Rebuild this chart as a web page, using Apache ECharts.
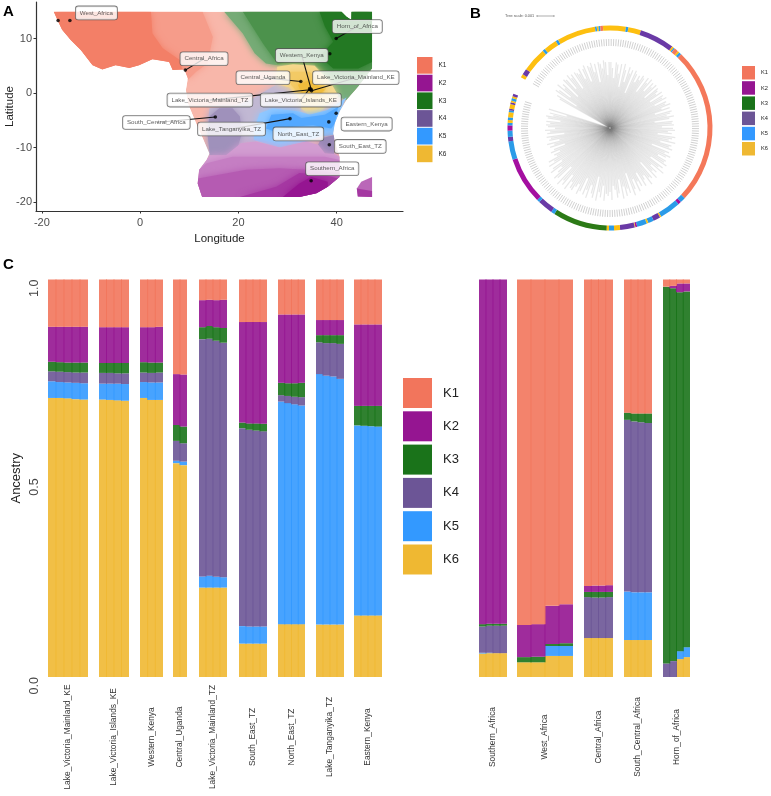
<!DOCTYPE html>
<html>
<head>
<meta charset="utf-8">
<style>html,body{margin:0;padding:0;background:#fff}#c{width:771px;height:796px;filter:blur(.4px)}</style>
<script src="https://cdn.jsdelivr.net/npm/echarts@6/dist/echarts.min.js"></script>
</head>
<body>
<div id="c"></div>
<script>
// ---------- shared ----------
const clusters = ['K1','K2','K3','K4','K5','K6'];

// ---------- panel C: ancestry per sample, one inner list per group ----------
const groups = ['Lake_Victoria_Mainland_KE','Lake_Victoria_Islands_KE','Western_Kenya','Central_Uganda','Lake_Victoria_Mainland_TZ','South_East_TZ','North_East_TZ','Lake_Tanganyika_TZ','Eastern_Kenya','Southern_Africa','West_Africa','Central_Africa','South_Central_Africa','Horn_of_Africa'];
const K1 = [[.119,.119,.119,.119,.119],[.120,.120,.120,.120],[.120,.120,.119],[.238,.239],[.052,.051,.052,.051],[.107,.107,.107,.107],[.088,.088,.088,.088],[.102,.102,.102,.102],[.113,.113,.113,.113],[0,0,0,0],[.869,.867,.821,.817],[.771,.770,.770,.769],[.335,.337,.337,.337],[.018,.016,.010,.010]];
const K2 = [[.088,.089,.090,.090,.090],[.090,.090,.090,.090],[.088,.089,.090],[.128,.131],[.068,.066,.068,.071],[.253,.255,.255,.256],[.172,.173,.173,.172],[.038,.038,.038,.038],[.205,.205,.205,.205],[.867,.866,.866,.866],[.081,.082,.096,.098],[.015,.016,.016,.017],[0,0,0,0],[0,.006,.022,.020]];
const K3 = [[.024,.024,.024,.025,.025],[.025,.025,.026,.026],[.026,.026,.025],[.040,.042],[.030,.032,.034,.037],[.014,.016,.018,.019],[.031,.032,.034,.036],[.018,.020,.020,.022],[.049,.050,.051,.052],[.006,.005,.005,.005],[.013,.014,.005,.007],[.013,.014,.014,.013],[.018,.020,.022,.024],[.948,.938,.903,.895]];
const K4 = [[.025,.026,.026,.026,.027],[.027,.027,.026,.027],[.024,.024,.025],[.050,.046],[.597,.596,.594,.590],[.498,.495,.493,.491],[.016,.018,.019,.021],[.080,.082,.084,.088],[0,0,0,0],[.066,.068,.069,.069],[0,0,0,0],[.103,.102,.102,.103],[.432,.430,.428,.426],[.034,.040,0,0]];
const K5 = [[.042,.040,.040,.041,.041],[.040,.041,.042,.042],[.040,.044,.044],[.006,.009],[.028,.030,.027,.026],[.044,.043,.043,.043],[.560,.556,.553,.550],[.630,.626,.624,.618],[.478,.477,.476,.475],[.002,.001,0,0],[0,0,.025,.025],[0,0,0,0],[.122,.120,.120,.120],[0,0,.020,.025]];
const K6 = [[.702,.702,.701,.699,.698],[.698,.697,.696,.695],[.702,.697,.697],[.538,.533],[.225,.225,.225,.225],[.084,.084,.084,.084],[.133,.133,.133,.133],[.132,.132,.132,.132],[.155,.155,.155,.155],[.059,.060,.060,.060],[.037,.037,.053,.053],[.098,.098,.098,.098],[.093,.093,.093,.093],[0,0,.045,.050]];
const ancestry = [K1,K2,K3,K4,K5,K6];

// ---------- panel B: ring segments (cluster index, arc length) and branch lengths ----------
const ringCluster = [5,3,5,4,5,4,5,4,5,4,0,5,4,5,3,5,4,0,5,4,0,4,1,4,5,3,4,5,4,1,5,3,5,4,5,2,4,3,4,1,4,3,4,1,4,5,4,5,4,3,5,3,5,4,5,3];
const ringArc = [2,3.4,14,1.5,7.5,1.5,22,1,1,1,1.5,13,1.4,7.2,19.8,1,.8,2.3,1,1.5,89.2,3.1,1.7,12,.8,4,3.2,1,5.6,1,.4,8.3,3.4,2.9,1.3,31,2.1,8.7,1.6,26.6,10.6,2.5,3.5,3,1.5,1.5,1.5,3,1,1,2.5,1,1,1.5,1,1.5];
const ringGap = 10.1;
const branchLength = [
58,62,40,66,63,50,68,60,64,45,67,65,52,68,63,66,48,66,64,
62,67,55,65,68,50,66,64,68,58,66,47,67,65,60,68,66,53,66,
66,60,50,66,64,55,65,42,66,60,48,64,58,62,38,63,60,52,60,
56,62,60,45,63,58,64,50,62,58,63,46,62,60,57,63,48,62,60,
64,50,62,60,65,55,63,47,64,62,58,65,60,45,63,62,64,52,63,
65,58,62,48,66,63,60,67,52,64,62,66,45,64,60,67,63,55,65,
64,68,50,66,62,70,55,64,60,68,46,65,63,70,58,62,68,52,66,
60,70,56,66,72,48,68,63,70,60,72,52,66,70,62,58,72,64,68,
66,73,58,70,65,74,50,72,68,60,74,66,72,55,70,74,64,68,73,
72,66,76,60,74,70,77,55,72,75,68,62,74,70,58,72,65,70,60,
62,55,64,60,48,63,58,65,52,62,60,64,46,63,60,65,55,62,64,
60,64,50,63,65,58,62,45,64];
const tipSlots = 225;

// ---------- panel A: sampling sites (lon, lat) and their label anchors ----------
const siteNames = ['West_Africa','Horn_of_Africa','Central_Africa','Western_Kenya','Central_Uganda','Lake_Victoria_Mainland_KE','Lake_Victoria_Mainland_TZ','Lake_Victoria_Islands_KE','South_Central_Africa','Lake_Tanganyika_TZ','North_East_TZ','Eastern_Kenya','South_East_TZ','Southern_Africa'];
const siteLon = [-14.3,39.9,9.2,34.8,32.7,34.9,34.6,34.5,15.3,30.5,38.4,39.9,38.5,34.8];
const siteLat = [13.3,10,4.2,.7,2.1,.4,.6,.8,-4.4,-4.7,-5.3,-3.7,-9.5,-16.1];
const labelLon = [-8.9,44.2,13,32.9,25,43.9,14.2,32.7,3.3,18.6,32.2,46.1,44.8,39.1];
const labelLat = [14.7,12.2,6.3,6.9,2.8,2.8,-1.3,-1.3,-5.4,-6.6,-7.5,-5.7,-9.8,-13.9];
const extraSites = [[-16.7,13.3],[38.6,7.2]];
const leaderSites = ['Horn_of_Africa','Central_Africa','Western_Kenya','Central_Uganda','Lake_Victoria_Mainland_KE','Lake_Victoria_Mainland_TZ','Lake_Victoria_Islands_KE','South_Central_Africa','Lake_Tanganyika_TZ'];

// ---------- panel A: interpolated ancestry regions, as lon/lat outlines ----------
const coastWest = [[9,4.3],[6.6,4.2],[5.9,5.7],[2.5,6.2],[-.2,5.1],[-2.2,4.6],[-5,5.1],[-7.7,4.3],[-9.7,5.1],[-12.1,7.9],[-14.1,9.7],[-15.9,11.6],[-16.7,13.1],[-17.6,14.9]];
const coastSouth = [[40.6,-15.4],[38.2,-17.2],[35.9,-18.4],[32.4,-19.1],[12.6,-19.1],[11.7,-16.6],[12,-14.1]];
const hornEdge = [[47.2,14.9],[43,14.9],[43,13.4],[42,14],[41,14.9]];
const land = [[-17.6,14.9],[-16.7,13.1],[-15.9,11.6],[-14.1,9.7],[-12.1,7.9],[-9.7,5.1],[-7.7,4.3],[-5,5.1],[-2.2,4.6],[-.2,5.1],[2.5,6.2],[5.9,5.7],[6.6,4.2],[9,4.3],[9.7,2.7],[9.3,.55],[9.7,-1.9],[11.4,-5.6],[12.9,-8.6],[14.1,-11.1],[13.5,-12.3],[12,-14.1],[11.7,-16.6],[12.6,-19.1],[32.4,-19.1],[35.9,-18.4],[38.2,-17.2],[40.6,-15.4],[40.6,-11.7],[39.6,-8.6],[39.3,-7.4],[39.6,-5.6],[40.6,-3.4],[42,-1.3],[44.4,1.2],[47.2,4.5],[47.2,14.9],[43,14.9],[43,13.4],[42,14],[41,14.9]];
const westMid = [[12.7,14.9],[14.8,10.3],[13.7,5.4],[11.4,3.9],[9.7,2.4]].concat(coastWest);
const westCore = [[2.2,14.9],[2.5,10.9],[4.6,8.2],[8,6.1],[8.5,4.5]].concat(coastWest);
const hornPale = [[17.1,14.9],[20.9,10.9],[23.3,7.3],[25.6,5.4],[28,5.1],[35.5,5.1],[39.3,1.2],[40.3,-.7],[42,-1.3],[44.4,1.2],[47.2,4.5]].concat(hornEdge);
const hornMid = [[20.9,14.9],[25,9.1],[28,5.3],[35.5,5.3],[38.6,2.4],[43.3,2.4],[47.2,4.5]].concat(hornEdge);
const hornCore = [[36.5,14.9],[37.6,12.2],[39.3,9.4],[36.5,6.7],[39.3,4.5],[44.4,4.5],[47.2,5.7]].concat(hornEdge);
const centralPale = [[14.1,-2.8],[18.8,-2.6],[22.9,-1],[24.6,-.1],[27.7,1.5],[30.7,1],[32.8,-1.3],[32.8,-3.4],[27,-2.8],[24.3,-3.7],[23.3,-6.8],[23.6,-8.9],[20.5,-9.2],[17.5,-11.4],[14.2,-11.4],[13.7,-7.4]];
const centralCore = [[13.7,-7.4],[14.1,-4.3],[16.1,-2.8],[18.8,-2.8],[20.3,-4.3],[20.7,-7.4],[19.9,-9.8],[17.5,-11.4],[14.2,-11.4]];
const lakePale = [[27.9,4.8],[31.1,5.3],[35.5,5],[38.6,2.1],[40.3,-.4],[38.2,-2.2],[36.4,-3.6],[34.1,-3.9],[32.8,-2.8],[32.8,-1.3],[30.4,1],[27.6,1.8]];
const lakeMid = [[29.7,3.9],[34.5,3.9],[37.9,.9],[36.5,-1],[32.8,-.7],[30.7,1.5]];
const lakeCore = [[32.1,1.5],[34.5,2.4],[37.6,.6],[35.9,-.7],[33.1,-.4]];
const coastPale = [[23.6,-5.6],[24.3,-3.7],[27,-2.8],[32.4,-3.4],[34.5,-4],[38.2,-3.1],[40.3,-1.9],[42,-.8],[40.6,-3.4],[39.6,-5.6],[39.3,-7.7],[36.5,-8],[33.8,-8.9],[28.4,-10],[23.1,-8.6]];
const coastCore = [[25.6,-6.5],[26.7,-4],[31.1,-3.7],[32.8,-4.6],[37.6,-4],[40.3,-2.5],[39.6,-5.6],[38.9,-6.5],[35.2,-5.9],[31.1,-6.2],[28.4,-7.4]];
const southEast = [[39.5,-7.7],[39.5,-11.2],[37.6,-11.1],[36.2,-9.5],[36.9,-8.3]];
const south1 = [[14.2,-11.4],[17.5,-11.4],[20.5,-9.2],[23.6,-8.9],[28.4,-10],[33.8,-8.9],[36.2,-9.5],[37.6,-11.1],[39.5,-11.2],[40.6,-11.7]].concat(coastSouth,[[13.5,-12.3]]);
const south2 = [[13.5,-12.9],[18.8,-11.7],[29,-11.7],[37.6,-11.7],[40.6,-12.3]].concat(coastSouth);
const south3 = [[11.8,-15.7],[21.6,-14.1],[28.4,-13.8],[33.8,-14.1],[40.6,-14.7],[40.6,-15.4],[38.2,-17.2],[35.9,-18.4],[32.4,-19.1],[12.6,-19.1],[11.7,-16.6]];
const south4 = [[20.2,-19.1],[27.7,-17.2],[32.4,-14.7],[37.2,-15],[40.3,-15.7],[38.2,-17.2],[35.9,-18.4],[32.4,-19.1]];
const south5 = [[29,-19.1],[32.4,-16.6],[34.8,-15.4],[38.2,-16.3],[38.2,-17.2],[35.9,-18.4],[32.4,-19.1]];
const madagascar = [[47.2,-15.4],[45,-16.3],[44.1,-17.5],[44.3,-19],[47.2,-19.1]];
const madagascarCore = [[44.1,-17.5],[47.2,-18],[47.2,-19.1],[44.3,-19]];
const regionOutlines = [land,westMid,westCore,hornPale,hornMid,hornCore,centralPale,centralCore,lakePale,lakeMid,lakeCore,coastPale,coastCore,southEast,south1,south2,south3,south4,south5,madagascar,madagascarCore];
const regionCluster  = [0,0,0,2,2,2,3,3,5,5,5,4,4,3,1,1,1,1,1,1,1];
const regionShare    = [.52,.72,.93,.6,.78,.96,.42,.65,.55,.75,.95,.55,.85,.7,.42,.55,.7,.85,1,.65,.85];

// ---------- styles and layout ----------
const legendColors = ['#F2755C','#951591','#1A731A','#6C5596','#3399FF','#EFB832'];
const ringColors   = ['#F4785A','#A40FA0','#2C7A16','#6A3AA6','#2B9BE8','#FDBF10'];
const facetLeft  = [48,99,140,173,199,239,278,316,354,479,517,584,624,663];
const facetRight = [88,129,163,187,227,267,305,344,382,507,573,613,652,690];
const W = 771, H = 796, barTop = 279.5, barBottom = 677;
const FONT = '"Liberation Sans", Arial, sans-serif';

function blend(hex, share){
  const n = parseInt(hex.slice(1),16), c = [n>>16,(n>>8)&255,n&255];
  return 'rgb(' + c.map(v => Math.round(255 + (v-255)*share)).join(',') + ')';
}
const legendData = clusters.map((k,i) => ({name:k, icon:'rect', itemStyle:{color:legendColors[i], opacity:1, borderWidth:0}}));
function legend(left, top, w, h, gap, size, pad){
  return {orient:'vertical', left, top, itemWidth:w, itemHeight:h, itemGap:gap, selectedMode:false, padding:0,
    data:legendData, textStyle:{fontFamily:FONT, fontSize:size, color:'#222', padding:[0,0,0,pad]}};
}

const grids = [{left:36, right:W-403, top:2, bottom:H-211}];
const xAxes = [{gridIndex:0, type:'value', min:-21.2, max:53.5, name:'Longitude', nameLocation:'middle', nameGap:22,
  nameTextStyle:{fontFamily:FONT, fontSize:11.5, color:'#222'},
  axisLine:{onZero:false, lineStyle:{color:'#333', width:1.2}}, axisTick:{length:2.5, lineStyle:{color:'#333'}, customValues:[-20,0,20,40]},
  axisLabel:{fontFamily:FONT, fontSize:11, color:'#4d4d4d', margin:6, customValues:[-20,0,20,40], formatter:v=>String(v)}, splitLine:{show:false}}];
const yAxes = [{gridIndex:0, type:'value', min:-21.65, max:16.7, name:'Latitude', nameLocation:'middle', nameGap:26, nameRotate:90, nameMoveOverlap:false,
  nameTextStyle:{fontFamily:FONT, fontSize:11.5, color:'#222', align:'center', verticalAlign:'middle'},
  axisLine:{onZero:false, lineStyle:{color:'#333', width:1.2}}, axisTick:{length:2.5, lineStyle:{color:'#333'}, customValues:[-20,-10,0,10]},
  axisLabel:{fontFamily:FONT, fontSize:11, color:'#4d4d4d', margin:4, customValues:[-20,-10,0,10], formatter:v=>String(v)}, splitLine:{show:false}}];
const series = [];

// map regions: soft-edged layers kept inside the coastline
const softCount = 19;
series.push({type:'custom', name:'map', coordinateSystem:'cartesian2d', xAxisIndex:0, yAxisIndex:0, silent:true, z:1,
  data: regionOutlines.map((_,i)=>[i]),
  renderItem:(p,api)=>{
    const i = api.value(0);
    const fill = blend(legendColors[regionCluster[i]], regionShare[i]);
    const el = {type:'polygon', shape:{points:regionOutlines[i].map(q=>api.coord(q))},
      style:{fill, stroke:null, shadowBlur:(i>0 && i<softCount)?7:0, shadowColor:fill}};
    if(i<softCount){
      el.clipPath = {type:'polygon', shape:{points:land.map(q=>api.coord(q))}};
    }
    return el;
  }});
// leader lines
series.push({type:'custom', name:'leaders', coordinateSystem:'cartesian2d', xAxisIndex:0, yAxisIndex:0, silent:true, z:3,
  data: leaderSites.map(n=>[siteNames.indexOf(n)]),
  renderItem:(p,api)=>{
    const i = api.value(0), a = api.coord([siteLon[i],siteLat[i]]), b = api.coord([labelLon[i],labelLat[i]]);
    return {type:'line', shape:{x1:a[0],y1:a[1],x2:b[0],y2:b[1]}, style:{stroke:'#111', lineWidth:1.1}};
  }});
// site dots
series.push({type:'scatter', name:'sites', xAxisIndex:0, yAxisIndex:0, silent:true, z:4, symbolSize:3.6, itemStyle:{color:'#000'},
  data: siteLon.map((v,i)=>[v,siteLat[i]]).concat(extraSites)});
// site labels
series.push({type:'scatter', name:'siteLabels', xAxisIndex:0, yAxisIndex:0, silent:true, z:5, zlevel:1, symbolSize:0,
  data: labelLon.map((v,i)=>({value:[v,labelLat[i]], name:siteNames[i]})),
  label:{show:true, position:'inside', formatter:'{b}', fontFamily:FONT, fontSize:6.2, color:'#333', backgroundColor:'#fff',
    borderColor:'#555', borderWidth:.8, borderRadius:2.5, padding:[3.5,4]},
  labelLayout:{hideOverlap:false}});

// bar facets
groups.forEach((g,i)=>{
  const ax = i+1, n = K1[i].length;
  grids.push({left:facetLeft[i], width:facetRight[i]-facetLeft[i], top:barTop, height:barBottom-barTop});
  xAxes.push({gridIndex:ax, type:'category', data:K1[i].map((_,s)=>g+'_'+(s+1)), name:g, nameLocation:'middle', nameGap:60, nameRotate:90,
    nameMoveOverlap:false,
    nameTextStyle:{fontFamily:FONT, fontSize:8.4, color:'#333', align:'center', verticalAlign:'middle'},
    axisLine:{show:false}, axisTick:{show:false}, axisLabel:{show:false}, splitLine:{show:false}});
  yAxes.push(i===0 ? {gridIndex:ax, type:'value', min:0, max:1, interval:.5, name:'Ancestry', nameLocation:'middle', nameGap:25, nameRotate:90,
      nameTextStyle:{fontFamily:FONT, fontSize:13, color:'#222'},
      axisLine:{show:false}, axisTick:{show:false}, splitLine:{show:false},
      axisLabel:{fontFamily:FONT, fontSize:12.5, color:'#444', rotate:90, align:'right', verticalAlign:'middle', margin:13, formatter:v=>v.toFixed(1)}}
    : {gridIndex:ax, type:'value', min:0, max:1, interval:.5, show:false});
  const barPx = (facetRight[i]-facetLeft[i])/n + 1;
  for(let k=5;k>=0;k--){
    series.push({type:'bar', name:clusters[k], xAxisIndex:ax, yAxisIndex:ax, stack:g, data:ancestry[k][i], barWidth:barPx, silent:true,
      itemStyle:{color:legendColors[k], opacity:.9}, emphasis:{disabled:true}, z:2, clip:true});
  }
});

// tree branches and tip labels in polar coordinates
series.push({type:'custom', name:'tree', coordinateSystem:'polar', silent:true, z:1,
  data: branchLength.map((v,i)=>[v,i]),
  renderItem:(p,api)=>{
    const i = api.value(1), tip = api.coord([api.value(0),i]), o = api.coord([1,i]);
    const t0 = api.coord([82,i]), t1 = api.coord([89,i]);
    return {type:'group', children:[
      {type:'line', shape:{x1:o[0],y1:o[1],x2:tip[0],y2:tip[1]}, style:{stroke:'rgba(130,130,130,.19)', lineWidth:1.25}},
      {type:'line', shape:{x1:t0[0],y1:t0[1],x2:t1[0],y2:t1[1]}, style:{stroke:'rgba(150,150,150,.55)', lineWidth:.8}}
    ]};
  }});

// ring
series.push({type:'pie', name:'ring', center:[610,128], radius:[97.5,102.5], startAngle:150.4, clockwise:true, silent:true, animation:false,
  minAngle:0, avoidLabelOverlap:false, label:{show:false}, labelLine:{show:false},
  data: ringArc.map((v,i)=>({value:v, name:'seg'+i, itemStyle:{color:ringColors[ringCluster[i]]}})).concat([{value:ringGap, name:'gap', itemStyle:{color:'rgba(0,0,0,0)'}}])});

const opt = {
  animation:false, backgroundColor:'#fff',
  title:[
    {text:'A', left:3, top:4, padding:0, textStyle:{fontFamily:FONT, fontWeight:'bold', fontSize:15, color:'#000'}},
    {text:'B', left:470, top:6, padding:0, textStyle:{fontFamily:FONT, fontWeight:'bold', fontSize:15, color:'#000'}},
    {text:'C', left:3, top:257, padding:0, textStyle:{fontFamily:FONT, fontWeight:'bold', fontSize:15, color:'#000'}},
    {text:'Tree scale: 0.001', left:505, top:14, padding:0, textStyle:{fontFamily:FONT, fontWeight:'normal', fontSize:3.8, color:'#555'}}
  ],
  legend:[ legend(417,57,15.5,16.7,1,6.5,1), legend(742,66,13,13.5,1.7,5.7,1), legend(403,378,29,30,3.3,13,6) ],
  grid:grids, xAxis:xAxes, yAxis:yAxes,
  polar:{center:[610,128], radius:102},
  angleAxis:{type:'category', data:Array.from({length:tipSlots},(_,i)=>'tip'+i), startAngle:150, clockwise:true, show:false, boundaryGap:false},
  radiusAxis:{type:'value', min:0, max:102, show:false},
  graphic:[{type:'group', silent:true, children:[
    {type:'line', shape:{x1:537,y1:16,x2:554,y2:16}, style:{stroke:'#777', lineWidth:.6}},
    {type:'line', shape:{x1:537,y1:15,x2:537,y2:17}, style:{stroke:'#777', lineWidth:.6}},
    {type:'line', shape:{x1:554,y1:15,x2:554,y2:17}, style:{stroke:'#777', lineWidth:.6}}
  ]}],
  series
};
const chart = echarts.init(document.getElementById('c'), null, {renderer:'canvas', width:W, height:H});
chart.setOption(opt);
</script>
</body>
</html>
